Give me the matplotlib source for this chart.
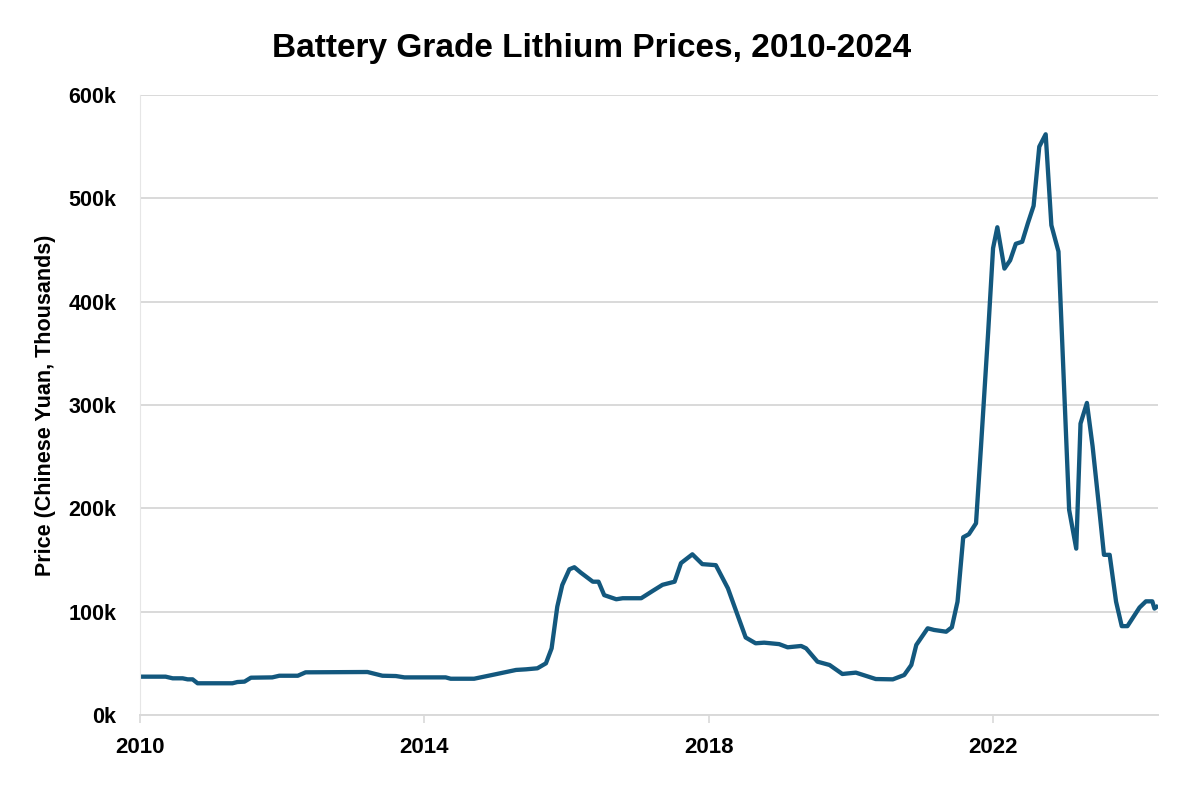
""" Battery grade lithium prices, 2010-2024 """

import matplotlib.pyplot as plt
from matplotlib.ticker import FuncFormatter

# decimal year of each reading, price in thousand CNY
years = [
    2010.00, 2010.36, 2010.46, 2010.60, 2010.67, 2010.74, 2010.81, 2011.30,
    2011.37, 2011.47, 2011.56, 2011.86, 2011.96, 2012.22, 2012.33, 2013.20,
    2013.41, 2013.60, 2013.72, 2014.30, 2014.37, 2014.70, 2015.00, 2015.29,
    2015.43, 2015.59, 2015.71, 2015.79, 2015.87, 2015.94, 2016.04, 2016.11,
    2016.20, 2016.37, 2016.45, 2016.53, 2016.70, 2016.79, 2017.05, 2017.21,
    2017.35, 2017.52, 2017.61, 2017.77, 2017.91, 2018.10, 2018.27, 2018.38,
    2018.52, 2018.66, 2018.78, 2018.99, 2019.11, 2019.30, 2019.37, 2019.53,
    2019.70, 2019.88, 2020.07, 2020.35, 2020.59, 2020.75, 2020.85, 2020.92,
    2021.08, 2021.17, 2021.34, 2021.42, 2021.50, 2021.58, 2021.66, 2021.76,
    2021.83, 2021.93, 2022.00, 2022.06, 2022.16, 2022.24, 2022.32, 2022.41,
    2022.49, 2022.57, 2022.65, 2022.74, 2022.82, 2022.92, 2023.07, 2023.17,
    2023.23, 2023.32, 2023.40, 2023.50, 2023.56, 2023.64, 2023.73, 2023.81,
    2023.89, 2024.06, 2024.15, 2024.24, 2024.27, 2024.30,
]
prices = [
    37.1, 37.1, 35.5, 35.5, 34.5, 34.5, 30.7, 30.7,
    31.9, 32.3, 36.1, 36.4, 38.0, 38.0, 41.3, 41.6,
    38.0, 37.7, 36.4, 36.4, 35.1, 35.1, 39.4, 43.6,
    44.2, 45.2, 50.0, 64.5, 104.9, 125.8, 141.0, 143.0,
    137.8, 129.0, 129.0, 116.0, 112.0, 113.0, 113.0, 120.0,
    126.0, 129.0, 147.0, 155.5, 146.0, 145.0, 122.6, 101.6,
    75.0, 69.4, 70.0, 68.6, 65.5, 66.8, 64.5, 51.6,
    48.4, 39.7, 41.0, 34.8, 34.5, 38.7, 48.4, 67.8,
    83.9, 82.3, 80.6, 84.9, 109.7, 172.0, 175.0, 185.5,
    259.7, 369.5, 451.8, 472.0, 432.0, 440.0, 456.0, 458.0,
    476.0, 492.7, 550.0, 562.0, 474.0, 448.5, 198.5, 161.0,
    282.0, 302.0, 260.0, 195.0, 155.0, 155.0, 109.7, 86.0,
    86.0, 104.0, 110.0, 110.0, 103.0, 104.6,
]

x_ticks = [2010, 2014, 2018, 2022]
y_ticks = [0, 100, 200, 300, 400, 500, 600]

plt.rcParams["font.family"] = ["Liberation Sans", "DejaVu Sans"]
plt.rcParams["font.weight"] = "bold"

fig = plt.figure(figsize=(12, 7.93), dpi=100)
ax = fig.add_axes([140 / 1200, 1 - 715 / 793, 1018 / 1200, 620 / 793])

ax.plot(years, prices, color="#13587e", linewidth=3.1, solid_joinstyle="round")

ax.set_xlim(2010, 2024.32)
ax.set_ylim(0, 600)
ax.set_xticks(x_ticks)
ax.set_yticks(y_ticks)
ax.yaxis.set_major_formatter(FuncFormatter(lambda v, _: f"{int(v)}k"))

ax.grid(axis="y", color="#d9d9d9", linewidth=1.4)
ax.set_axisbelow(True)
for side in ["top", "right"]:
    ax.spines[side].set_visible(False)
ax.spines["left"].set_color("#e6e6e6")
ax.spines["bottom"].set_color("#d9d9d9")
ax.spines["bottom"].set_linewidth(1.4)
ax.tick_params(axis="y", length=0, pad=17, labelsize=15.5)
ax.tick_params(axis="x", length=6, color="#d9d9d9", width=1.2, pad=10, labelsize=16)

ax.set_ylabel("Price (Chinese Yuan, Thousands)", fontsize=15.5, fontweight="bold", labelpad=9)
fig.suptitle("Battery Grade Lithium Prices, 2010-2024", x=0.493, y=0.958,
             fontsize=24, fontweight="bold")

fig.savefig("out.png", dpi=100)
